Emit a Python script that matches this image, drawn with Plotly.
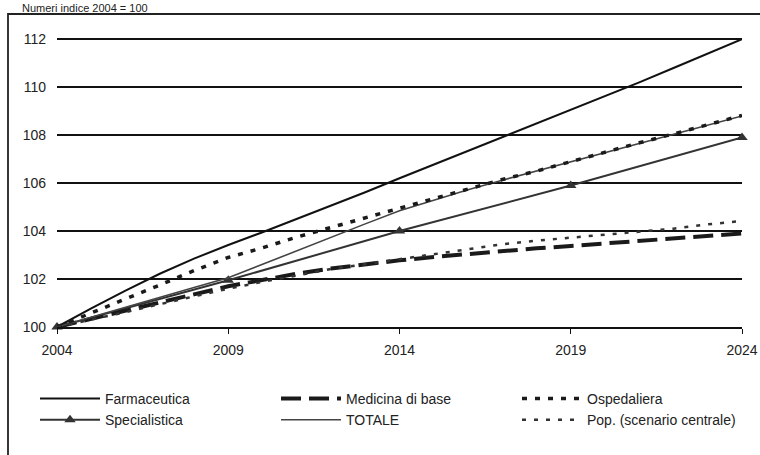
import plotly.graph_objects as go

years = list(range(2004, 2025))
farmaceutica = [100.0, 100.78, 101.52, 102.22, 102.85, 103.42, 103.95, 104.5, 105.05, 105.62,
                106.2, 106.77, 107.33, 107.9, 108.47, 109.03, 109.6, 110.2, 110.8, 111.4, 112.0]
medicina_base = [100.0, 100.33, 100.68, 101.02, 101.36, 101.7, 101.98, 102.22, 102.44, 102.62,
                 102.78, 102.92, 103.05, 103.17, 103.28, 103.38, 103.49, 103.6, 103.7, 103.8, 103.9]
ospedaliera = [100.0, 100.6, 101.17, 101.75, 102.35, 102.9, 103.3, 103.75, 104.15, 104.55,
               104.95, 105.35, 105.75, 106.15, 106.5, 106.9, 107.3, 107.68, 108.05, 108.43, 108.82]
totale = [100.0, 100.42, 100.83, 101.24, 101.65, 102.05, 102.62, 103.18, 103.74, 104.3,
          104.85, 105.3, 105.72, 106.12, 106.5, 106.87, 107.25, 107.64, 108.03, 108.42, 108.8]
pop_centrale = [100.0, 100.3, 100.62, 100.95, 101.27, 101.6, 101.88, 102.15, 102.42, 102.62,
                102.82, 103.05, 103.25, 103.45, 103.6, 103.72, 103.85, 103.98, 104.1, 104.28, 104.42]
spec_years = [2004, 2009, 2014, 2019, 2024]
specialistica = [100.0, 101.95, 104.0, 105.9, 107.9]

tick_years = [2004, 2009, 2014, 2019, 2024]
y_ticks = [100, 102, 104, 106, 108, 110, 112]

FONT = "Liberation Sans, Arial, sans-serif"

fig = go.Figure()
fig.add_trace(go.Scatter(x=years, y=farmaceutica, name="Farmaceutica", mode="lines",
                         line=dict(color="#111111", width=2), legend="legend"))
fig.add_trace(go.Scatter(x=spec_years, y=specialistica, name="Specialistica", mode="lines+markers",
                         line=dict(color="#333333", width=2),
                         marker=dict(symbol="triangle-up", size=10, color="#333333"),
                         cliponaxis=False, legend="legend"))
fig.add_trace(go.Scatter(x=years, y=medicina_base, name="Medicina di base", mode="lines",
                         line=dict(color="#1a1a1a", width=4, dash="20px,8px"), legend="legend2"))
fig.add_trace(go.Scatter(x=years, y=totale, name="TOTALE", mode="lines",
                         line=dict(color="#444444", width=1.6), legend="legend2"))
fig.add_trace(go.Scatter(x=years, y=ospedaliera, name="Ospedaliera", mode="lines",
                         line=dict(color="#1a1a1a", width=3.5, dash="5px,8px"), legend="legend3"))
fig.add_trace(go.Scatter(x=years, y=pop_centrale, name="Pop. (scenario centrale)", mode="lines",
                         line=dict(color="#333333", width=2.5, dash="4px,8px"), legend="legend3"))


def leg(xpx):
    return dict(
        orientation="v",
        xref="container", yref="container",
        x=xpx / 760, y=1 - 383 / 455, xanchor="left", yanchor="top",
        font=dict(family=FONT, size=14, color="#222222"),
        itemwidth=60,
        tracegroupgap=0,
        traceorder="normal",
        bgcolor="rgba(0,0,0,0)",
    )


fig.update_layout(
    width=760, height=455,
    margin=dict(l=57, r=18, t=38, b=128, autoexpand=False),
    paper_bgcolor="white", plot_bgcolor="white",
    font=dict(family=FONT, size=14, color="#222222"),
    showlegend=True,
    legend=leg(35),
    legend2=leg(276),
    legend3=leg(517),
    xaxis=dict(
        range=[2004, 2024],
        tickmode="array", tickvals=tick_years, ticktext=[str(v) for v in tick_years],
        showgrid=False, zeroline=False,
        showline=True, linecolor="#111111", linewidth=1.5,
        ticks="outside", ticklen=5, tickcolor="#111111", tickwidth=1.2,
        ticklabelstandoff=4,
        tickfont=dict(family=FONT, size=14, color="#222222"),
        automargin=False,
    ),
    yaxis=dict(
        range=[100, 112.05],
        tickmode="array", tickvals=y_ticks, ticktext=[str(v) for v in y_ticks],
        showgrid=True, gridcolor="#111111", gridwidth=1.5,
        zeroline=False, showline=False, ticks="",
        ticklabelstandoff=10,
        tickfont=dict(family=FONT, size=14, color="#222222"),
        automargin=False,
    ),
    shapes=[
        dict(type="rect", xref="paper", yref="paper",
             x0=(8 - 57) / 685, x1=1.2, y0=-0.6, y1=(327 - 14) / 289,
             line=dict(color="#222222", width=1.8), fillcolor="rgba(0,0,0,0)", layer="below"),
    ],
    annotations=[
        dict(text="Numeri indice 2004 = 100", xref="paper", yref="paper",
             x=(20 - 57) / 685, y=(327 - 0.5) / 289, xanchor="left", yanchor="top",
             showarrow=False, font=dict(family=FONT, size=11, color="#222222")),
    ],
)

fig.write_html("out.html")
